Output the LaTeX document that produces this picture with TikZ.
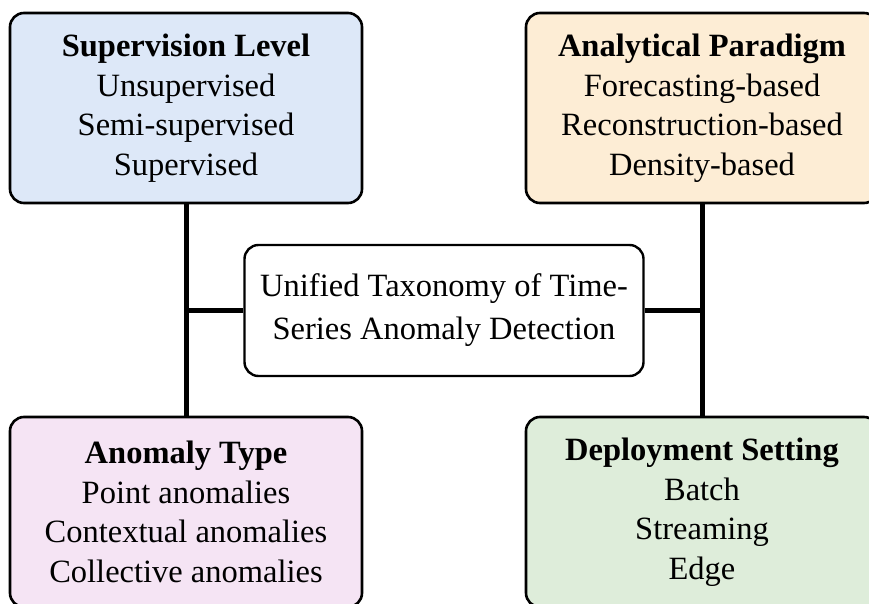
\documentclass[tikz,border=0pt]{standalone}
\usepackage{fontspec}
\setmainfont{Liberation Serif}
\definecolor{cblue}{RGB}{221,232,248}
\definecolor{corange}{RGB}{253,237,213}
\definecolor{cpink}{RGB}{245,228,244}
\definecolor{cgreen}{RGB}{222,237,218}
\begin{document}
\begin{tikzpicture}[x=1pt,y=-1pt,
  catbox/.style={draw=black, line width=2.6pt, rounded corners=14pt,
    minimum width=352pt, minimum height=190pt, align=center, inner sep=0pt,
    font=\fontsize{32.5}{39.5}\selectfont},
  centerbox/.style={draw=black, line width=2.4pt, rounded corners=14pt, fill=white,
    minimum width=399pt, minimum height=131pt, align=center, inner sep=0pt,
    font=\fontsize{32.5}{43}\selectfont},
  conn/.style={draw=black, line width=5pt}]
\useasboundingbox (0,0) rectangle (869,604);
\clip (0,0) rectangle (869,604);
\node[catbox, fill=cblue] (sl) at (186,108) {\textbf{Supervision Level}\\Unsupervised\\Semi-supervised\\Supervised};
\node[catbox, fill=corange] (ap) at (702,108) {\textbf{Analytical Paradigm}\\Forecasting-based\\Reconstruction-based\\Density-based};
\node[catbox, fill=cpink] (at) at (186,512) {\textbf{Anomaly Type}\\Point anomalies\\Contextual anomalies\\Collective anomalies};
\node[catbox, fill=cgreen] (ds) at (702,512) {\textbf{Deployment Setting}\\Batch\\Streaming\\Edge};
\node[centerbox] (c) at (444,310.5) {Unified Taxonomy of Time-\\Series Anomaly Detection};
\draw[conn] (sl.south) -- (at.north);
\draw[conn] (ap.south) -- (ds.north);
\draw[conn] (c.west) -- (c.west -| sl.south);
\draw[conn] (c.east) -- (c.east -| ap.south);
\end{tikzpicture}
\end{document}
